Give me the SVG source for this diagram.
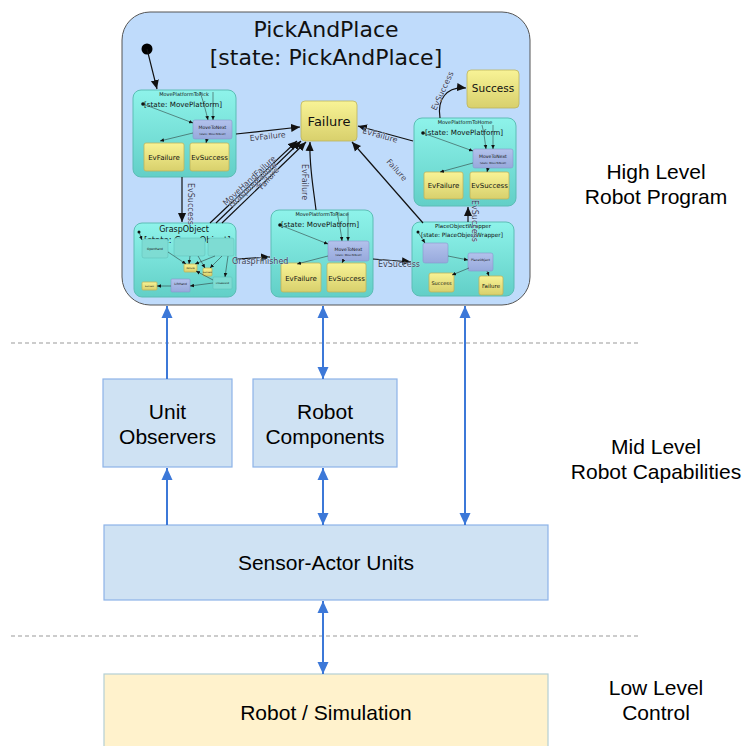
<svg xmlns="http://www.w3.org/2000/svg" width="742" height="746" viewBox="0 0 742 746">
  <defs>
    <linearGradient id="teal" x1="0" y1="0" x2="0" y2="1">
      <stop offset="0" stop-color="#8ef3ea"/>
      <stop offset="1" stop-color="#62cfc7"/>
    </linearGradient>
    <linearGradient id="yellow" x1="0" y1="0" x2="0" y2="1">
      <stop offset="0" stop-color="#f8f396"/>
      <stop offset="1" stop-color="#d8d06c"/>
    </linearGradient>
    <linearGradient id="lav" x1="0" y1="0" x2="0" y2="1">
      <stop offset="0" stop-color="#b3c2ec"/>
      <stop offset="1" stop-color="#97a9dc"/>
    </linearGradient>
    <marker id="blk" markerUnits="userSpaceOnUse" viewBox="0 0 10 10" markerWidth="9" markerHeight="9" refX="10" refY="5" orient="auto">
      <path d="M0,0.5 L10,5 L0,9.5 z" fill="#111"/>
    </marker>
    <marker id="blk-s" markerUnits="userSpaceOnUse" viewBox="0 0 10 10" markerWidth="4" markerHeight="4" refX="10" refY="5" orient="auto">
      <path d="M0,0.5 L10,5 L0,9.5 z" fill="#111"/>
    </marker>
    <marker id="blue" markerUnits="userSpaceOnUse" viewBox="0 0 12 12" markerWidth="12" markerHeight="12" refX="12" refY="6" orient="auto-start-reverse">
      <path d="M0,0.5 L12,6 L0,11.5 z" fill="#3c78d8"/>
    </marker>
  </defs>
  <style>
    .sc { font-family: "DejaVu Sans", "Noto Sans", sans-serif; fill: #111; }
    .ar { font-family: "Liberation Sans", Arial, sans-serif; fill: #000; font-size: 21px; text-anchor: middle; }
    .state { fill: url(#teal); stroke: #5dbdb5; stroke-width: 1; }
    .final { fill: url(#yellow); stroke: #bdb45e; stroke-width: 0.8; }
    .sub { fill: url(#lav); stroke: #8798cc; stroke-width: 0.6; }
    .tr { fill: none; stroke: #111; stroke-width: 1.2; marker-end: url(#blk); }
    .tin { fill: none; stroke: #222; stroke-width: 0.5; marker-end: url(#blk-s); }
    .tl { font-family: "DejaVu Sans", sans-serif; font-size: 8px; fill: #3a4256; stroke: #dfeaff; stroke-width: 0.4; paint-order: stroke; }
    .blu { fill: none; stroke: #3c78d8; stroke-width: 2; }
    .box { fill: #cfe2f3; stroke: #8db3e8; stroke-width: 1.2; }
    .dash { stroke: #999; stroke-width: 1.2; stroke-dasharray: 4 3; }
  </style>

  <!-- layer separators -->
  <line class="dash" x1="11" y1="343" x2="638" y2="343"/>
  <line class="dash" x1="11" y1="636" x2="638" y2="636"/>

  <!-- layer captions -->
  <g id="captions">
    <text class="ar" x="656" y="179">High Level</text>
    <text class="ar" x="656" y="204">Robot Program</text>
    <text class="ar" x="656" y="454">Mid Level</text>
    <text class="ar" x="656" y="479">Robot Capabilities</text>
    <text class="ar" x="656" y="695">Low Level</text>
    <text class="ar" x="656" y="720">Control</text>
  </g>

  <!-- statechart: PickAndPlace -->
  <g id="pickandplace">
    <rect x="122" y="12" width="408" height="293" rx="28" fill="#bfdbfb" stroke="#555" stroke-width="1"/>
    <text class="sc" x="326" y="37" font-size="22" text-anchor="middle">PickAndPlace</text>
    <text class="sc" x="326" y="65" font-size="22" text-anchor="middle">[state: PickAndPlace]</text>
    <circle cx="147" cy="49" r="5.5" fill="#000"/>
  </g>

  <g id="move-to-pick">
    <rect class="state" x="133" y="90" width="103" height="87" rx="8"/>
    <text class="sc" x="184" y="96" font-size="5" text-anchor="middle">MovePlatformToPick</text>
    <text class="sc" x="144" y="107" font-size="7.2">[state: MovePlatform]</text>
    <circle cx="143" cy="104" r="1.8" fill="#111"/>
    <rect class="sub" x="193" y="120" width="39" height="19" rx="2"/>
    <text class="sc" x="212.5" y="129" font-size="4.6" text-anchor="middle">MoveToNext</text>
    <text class="sc" x="212.5" y="134.5" font-size="2.6" text-anchor="middle">[state: MoveToNext]</text>
    <rect class="final" x="144" y="143" width="40" height="28" rx="2"/>
    <text class="sc" x="164" y="160" font-size="7" text-anchor="middle">EvFailure</text>
    <rect class="final" x="190" y="143" width="39" height="28" rx="2"/>
    <text class="sc" x="209.5" y="160" font-size="7" text-anchor="middle">EvSuccess</text>
    <path class="tin" d="M143,104 L193,123"/>
    <path class="tin" d="M200,92 C203,100 206,112 208,120"/>
    <path class="tin" d="M213,92 L213,120"/>
    <path class="tin" d="M193,133 L160,141"/>
    <path class="tin" d="M207,139 L206,143"/>
  </g>

  <g id="failure">
    <rect class="final" x="301" y="101" width="56" height="40" rx="4"/>
    <text class="sc" x="329" y="126" font-size="13" text-anchor="middle">Failure</text>
  </g>

  <g id="success">
    <rect class="final" x="467" y="70" width="52" height="38" rx="4"/>
    <text class="sc" x="493" y="92" font-size="10.5" text-anchor="middle">Success</text>
  </g>

  <g id="move-to-home">
    <rect class="state" x="414" y="118" width="102" height="88" rx="8"/>
    <text class="sc" x="465" y="124" font-size="5" text-anchor="middle">MovePlatformToHome</text>
    <text class="sc" x="425" y="135" font-size="7.2">[state: MovePlatform]</text>
    <circle cx="423" cy="133" r="1.8" fill="#111"/>
    <rect class="sub" x="473" y="149" width="40" height="19" rx="2"/>
    <text class="sc" x="493" y="158" font-size="4.6" text-anchor="middle">MoveToNext</text>
    <text class="sc" x="493" y="163.5" font-size="2.6" text-anchor="middle">[state: MoveToNext]</text>
    <rect class="final" x="424" y="172" width="39" height="27" rx="2"/>
    <text class="sc" x="443.5" y="188" font-size="7" text-anchor="middle">EvFailure</text>
    <rect class="final" x="470" y="172" width="39" height="27" rx="2"/>
    <text class="sc" x="489.5" y="188" font-size="7" text-anchor="middle">EvSuccess</text>
    <path class="tin" d="M423,133 L473,151"/>
    <path class="tin" d="M482,125 C484,132 485,142 486,149"/>
    <path class="tin" d="M493,125 L493,149"/>
    <path class="tin" d="M473,163 L440,172"/>
    <path class="tin" d="M488,168 L487,172"/>
  </g>

  <g id="grasp-object">
    <rect class="state" x="134" y="223" width="102" height="74" rx="8"/>
    <text class="sc" x="184" y="232" font-size="8" text-anchor="middle">GraspObject</text>
    <text class="sc" x="144" y="243" font-size="8.5">[state: GraspObject]</text>
    <circle cx="139" cy="232" r="1.5" fill="#111"/>
    <rect x="142" y="239" width="26" height="19" rx="2" fill="#7edcd3" stroke="#5dbdb5" stroke-width="0.5"/>
    <text class="sc" x="155" y="249.5" font-size="3" text-anchor="middle">OpenHand</text>
    <rect x="174" y="238" width="31" height="18" rx="2" fill="#7edcd3" stroke="#5dbdb5" stroke-width="0.5"/>
    <rect x="208" y="238" width="26" height="18" rx="2" fill="#7edcd3" stroke="#5dbdb5" stroke-width="0.5"/>
    <rect class="final" x="184" y="264" width="13" height="8" rx="1"/>
    <text class="sc" x="190.5" y="269" font-size="2.5" text-anchor="middle">Failure</text>
    <rect class="final" x="203" y="268" width="9" height="8" rx="1"/>
    <text class="sc" x="207.5" y="273" font-size="2.2" text-anchor="middle">Success</text>
    <rect class="final" x="142" y="282" width="15" height="8" rx="1"/>
    <text class="sc" x="149.5" y="287" font-size="2.2" text-anchor="middle">Success</text>
    <rect class="sub" x="171" y="279" width="19" height="13" rx="1"/>
    <text class="sc" x="180.5" y="285" font-size="3" text-anchor="middle">LiftHand</text>
    <rect x="213" y="277" width="19" height="12" rx="1" fill="#7edcd3" stroke="#5dbdb5" stroke-width="0.5"/>
    <text class="sc" x="222.5" y="284" font-size="2.5" text-anchor="middle">CloseHand</text>
    <path class="tin" d="M139,232 L142,240"/>
    <path class="tin" d="M168,252 L186,264"/>
    <path class="tin" d="M190,256 L189,264"/>
    <path class="tin" d="M198,256 L205,268"/>
    <path class="tin" d="M215,256 L195,264"/>
    <path class="tin" d="M222,256 L210,268"/>
    <path class="tin" d="M228,256 L225,277"/>
    <path class="tin" d="M213,283 L190,286"/>
    <path class="tin" d="M171,286 L157,286"/>
    <path class="tin" d="M213,280 L196,271"/>
  </g>

  <g id="move-to-place">
    <rect class="state" x="271" y="210" width="102" height="87" rx="8"/>
    <text class="sc" x="322" y="216" font-size="5" text-anchor="middle">MovePlatformToPlace</text>
    <text class="sc" x="281" y="227" font-size="7.2">[state: MovePlatform]</text>
    <circle cx="280" cy="225" r="1.8" fill="#111"/>
    <rect class="sub" x="328" y="241" width="41" height="20" rx="2"/>
    <text class="sc" x="348.5" y="250.5" font-size="4.6" text-anchor="middle">MoveToNext</text>
    <text class="sc" x="348.5" y="256" font-size="2.6" text-anchor="middle">[state: MoveToNext]</text>
    <rect class="final" x="281" y="263" width="40" height="29" rx="2"/>
    <text class="sc" x="301" y="281" font-size="7" text-anchor="middle">EvFailure</text>
    <rect class="final" x="327" y="263" width="39" height="29" rx="2"/>
    <text class="sc" x="346.5" y="281" font-size="7" text-anchor="middle">EvSuccess</text>
    <path class="tin" d="M280,225 L328,244"/>
    <path class="tin" d="M337,212 C339,222 341,232 342,241"/>
    <path class="tin" d="M348,212 L348,241"/>
    <path class="tin" d="M328,256 L297,264"/>
    <path class="tin" d="M343,261 L342,263"/>
  </g>

  <g id="place-object-wrapper">
    <rect class="state" x="412" y="222" width="102" height="74" rx="8"/>
    <text class="sc" x="463" y="228" font-size="5.5" text-anchor="middle">PlaceObjectWrapper</text>
    <text class="sc" x="421" y="237" font-size="5.8">[state: PlaceObjectWrapper]</text>
    <circle cx="418" cy="232" r="1.5" fill="#111"/>
    <rect class="sub" x="423" y="243" width="25" height="20" rx="2"/>
    <rect class="sub" x="468" y="253" width="25" height="18" rx="2"/>
    <text class="sc" x="480.5" y="261" font-size="3.2" text-anchor="middle">PlaceObject</text>
    <rect class="final" x="429" y="273" width="25" height="19" rx="2"/>
    <text class="sc" x="441.5" y="285" font-size="5" text-anchor="middle">Success</text>
    <rect class="final" x="479" y="276" width="24" height="19" rx="2"/>
    <text class="sc" x="491" y="288" font-size="5.5" text-anchor="middle">Failure</text>
    <path class="tin" d="M418,232 L425,243"/>
    <path class="tin" d="M448,256 L468,260"/>
    <path class="tin" d="M469,268 L452,275"/>
    <path class="tin" d="M487,271 L489,276"/>
  </g>

  <!-- statechart transitions -->
  <g id="transitions">
    <path class="tr" d="M147,49 L157,89"/>
    <path class="tr" d="M236,134 L300,127"/>
    <text class="tl" x="250" y="141" transform="rotate(-6 250 141)">EvFailure</text>
    <path class="tr" d="M182,177 L182,222"/>
    <text class="tl" x="188" y="183" transform="rotate(90 188 183)">EvSuccess</text>
    <path class="tr" d="M210,223 L297,141"/>
    <path class="tr" d="M216,223 L301,141"/>
    <path class="tr" d="M222,223 L306,142"/>
    <text class="tl" x="226" y="206" font-size="6" transform="rotate(-43 226 206)">MoveHandFailure</text>
    <text class="tl" x="232" y="208" font-size="6" transform="rotate(-43 232 208)">GraspingFailure</text>
    <text class="tl" x="262" y="190" transform="rotate(-48 262 190)">Failure</text>
    <path class="tr" d="M236,259 L270,257"/>
    <text class="tl" x="232" y="264">GraspFinished</text>
    <path class="tr" d="M316,210 C313,185 309,165 310,142"/>
    <text class="tl" x="302" y="164" transform="rotate(90 302 164)">EvFailure</text>
    <path class="tr" d="M373,259 L411,262"/>
    <text class="tl" x="378" y="267">EvSuccess</text>
    <path class="tr" d="M423,223 L352,142"/>
    <text class="tl" x="386" y="162" transform="rotate(48 386 162)">Failure</text>
    <path class="tr" d="M468,222 L468,207"/>
    <text class="tl" x="472" y="200" font-size="7" transform="rotate(90 472 200)">EvSuccess</text>
    <path class="tr" d="M413,141 L358,126"/>
    <text class="tl" x="362" y="133" transform="rotate(16 362 133)">EvFailure</text>
    <path class="tr" d="M440,118 C437,100 446,86 466,88"/>
    <text class="tl" x="436" y="111" font-size="7" transform="rotate(-65 436 111)">EvSuccess</text>
  </g>

  <!-- capability and control blocks -->
  <g id="unit-observers">
    <rect class="box" x="103" y="379" width="129" height="88"/>
    <text class="ar" x="167.5" y="419">Unit</text>
    <text class="ar" x="167.5" y="444">Observers</text>
  </g>
  <g id="robot-components">
    <rect class="box" x="253" y="379" width="144" height="88"/>
    <text class="ar" x="325" y="419">Robot</text>
    <text class="ar" x="325" y="444">Components</text>
  </g>
  <g id="sensor-actor-units">
    <rect class="box" x="104" y="525" width="444" height="75"/>
    <text class="ar" x="326" y="570">Sensor-Actor Units</text>
  </g>
  <g id="robot-simulation">
    <rect x="104" y="674" width="444" height="80" fill="#fff2cc" stroke="#b4cfd4" stroke-width="1.2"/>
    <text class="ar" x="326" y="720">Robot / Simulation</text>
  </g>

  <!-- data flow between layers -->
  <g id="connectors">
    <line class="blu" x1="167" y1="379" x2="167" y2="306" marker-end="url(#blue)"/>
    <line class="blu" x1="167" y1="525" x2="167" y2="468" marker-end="url(#blue)"/>
    <line class="blu" x1="323" y1="379" x2="323" y2="306" marker-start="url(#blue)" marker-end="url(#blue)"/>
    <line class="blu" x1="323" y1="525" x2="323" y2="468" marker-start="url(#blue)" marker-end="url(#blue)"/>
    <line class="blu" x1="465" y1="525" x2="465" y2="306" marker-start="url(#blue)" marker-end="url(#blue)"/>
    <line class="blu" x1="323" y1="674" x2="323" y2="601" marker-start="url(#blue)" marker-end="url(#blue)"/>
  </g>
</svg>
